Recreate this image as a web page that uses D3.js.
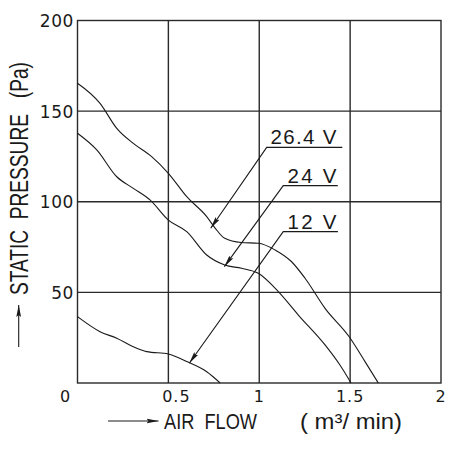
<!DOCTYPE html>
<html>
<head>
<meta charset="utf-8">
<script src="https://cdn.jsdelivr.net/npm/d3@7"></script>
<style>
  body { margin: 0; background: #fff; }
  svg { display: block; }
  text { fill: #1a1a1a; white-space: pre; }
</style>
</head>
<body>
<svg id="chart" width="451" height="450"></svg>
<script>
// flow (m3/min) and static pressure (Pa)
const flow264 = [0, 0.124, 0.216, 0.307, 0.408, 0.5, 0.601, 0.711, 0.757, 0.81, 0.9, 0.995, 1.087, 1.178, 1.252, 1.362, 1.495, 1.582, 1.655];
const pres264 = [165.4, 154.3, 140.5, 132.2, 124.9, 115.7, 102.8, 91.8, 85.5, 79.8, 77.5, 77.1, 73.4, 66.9, 57.8, 41.2, 25.5, 11.8, 0];

const flow24 = [0, 0.106, 0.216, 0.307, 0.399, 0.5, 0.601, 0.711, 0.81, 0.903, 0.995, 1.105, 1.215, 1.362, 1.444, 1.505];
const pres24 = [137.8, 128.6, 113.8, 107.4, 101, 89.9, 83.5, 70.6, 65.1, 63.3, 60.5, 50.4, 37.5, 21, 9.9, 0];

const flow12 = [0, 0.124, 0.216, 0.307, 0.381, 0.5, 0.601, 0.711, 0.785];
const pres12 = [36.6, 28.3, 24.7, 20, 17.3, 16, 11.8, 6.2, 0];

const xTicks = [0, 0.5, 1, 1.5, 2];
const yTicks = [50, 100, 150, 200];

// label, underline start/end flow, underline pressure, arrow tip (flow, pressure)
const labels = ['26.4 V', '24 V', '12 V'];
const labelFlow0 = [1.041, 1.132, 1.132];
const labelFlow1 = [1.457, 1.432, 1.433];
const labelPres = [130.0, 108.9, 83.5];
const tipFlow = [0.733, 0.808, 0.615];
const tipPres = [85.4, 64.2, 10.9];

const svg = d3.select('#chart');
const x = d3.scaleLinear().domain([0, 2]).range([77.5, 441]);
const y = d3.scaleLinear().domain([0, 200]).range([383, 20.5]);

const ink = '#1a1a1a';

svg.append('defs').append('marker')
  .attr('id', 'tip')
  .attr('viewBox', '0 -3 12 6')
  .attr('refX', 12).attr('refY', 0)
  .attr('markerUnits', 'userSpaceOnUse')
  .attr('markerWidth', 12).attr('markerHeight', 6)
  .attr('orient', 'auto')
  .append('path')
  .attr('d', 'M0,-2.4L12,0L0,2.4L2,0Z')
  .attr('fill', ink);

// grid
const grid = svg.append('g').attr('stroke', '#2a2a2a').attr('stroke-width', 1.4);
grid.selectAll('.gx').data(xTicks.slice(1, -1)).join('line')
  .attr('x1', d => x(d)).attr('x2', d => x(d))
  .attr('y1', y(0)).attr('y2', y(200));
grid.selectAll('.gy').data(yTicks.slice(0, -1)).join('line')
  .attr('y1', d => y(d)).attr('y2', d => y(d))
  .attr('x1', x(0)).attr('x2', x(2));
svg.append('rect')
  .attr('x', x(0)).attr('y', y(200))
  .attr('width', x(2) - x(0)).attr('height', y(0) - y(200))
  .attr('fill', 'none').attr('stroke', '#2a2a2a').attr('stroke-width', 1.4);

// tick labels
svg.append('g').selectAll('text').data(yTicks).join('text')
  .attr('x', 74).attr('y', d => y(d) + 6.5)
  .attr('text-anchor', 'end')
  .style('font', '17px "DejaVu Sans"')
  .style('letter-spacing', '0.6px')
  .text(d => d);
svg.append('g').selectAll('text').data(xTicks).join('text')
  .attr('x', d => d === 0 ? x(d) - 12 : x(d) + (d === 0.5 ? 8 : 0))
  .attr('y', 401.5)
  .attr('text-anchor', 'middle')
  .style('font', '16px "DejaVu Sans"')
  .style('letter-spacing', '1px')
  .text(d => d);

// curves
const line = d3.line().x(d => x(d[0])).y(d => y(d[1])).curve(d3.curveMonotoneX);
[[flow264, pres264], [flow24, pres24], [flow12, pres12]].forEach(([f, p]) => {
  svg.append('path')
    .datum(f.map((v, i) => [v, p[i]]))
    .attr('d', line)
    .attr('fill', 'none')
    .attr('stroke', ink)
    .attr('stroke-width', 1.1);
});

// voltage labels with leaders
labels.forEach((lab, i) => {
  svg.append('path')
    .attr('d', `M${x(labelFlow1[i])},${y(labelPres[i])}H${x(labelFlow0[i])}L${x(tipFlow[i])},${y(tipPres[i])}`)
    .attr('fill', 'none')
    .attr('stroke', ink)
    .attr('stroke-width', 1.1)
    .attr('marker-end', 'url(#tip)');
  svg.append('text')
    .attr('x', 336.5).attr('y', y(labelPres[i]) - 3)
    .attr('text-anchor', 'end')
    .attr('textLength', i === 0 ? 66 : 49)
    .attr('lengthAdjust', 'spacing')
    .style('font', '20.5px "Liberation Sans"')
    .text(lab);
});

// axis titles
svg.append('line')
  .attr('x1', 18.7).attr('y1', 347).attr('x2', 18.7).attr('y2', 305)
  .attr('stroke', ink).attr('stroke-width', 1.1)
  .attr('marker-end', 'url(#tip)');
svg.append('text')
  .attr('transform', 'translate(28.3,295) rotate(-90)')
  .attr('textLength', 233)
  .attr('lengthAdjust', 'spacingAndGlyphs')
  .style('font', '25px "Liberation Sans"')
  .text('STATIC  PRESSURE   (Pa)');

svg.append('line')
  .attr('x1', 108).attr('y1', 421).attr('x2', 158.5).attr('y2', 421)
  .attr('stroke', ink).attr('stroke-width', 1.1)
  .attr('marker-end', 'url(#tip)');
svg.append('text')
  .attr('x', 164).attr('y', 429)
  .attr('textLength', 93)
  .attr('lengthAdjust', 'spacingAndGlyphs')
  .style('font', '22px "Liberation Sans"')
  .text('AIR  FLOW');
svg.append('text')
  .attr('x', 300).attr('y', 429)
  .attr('textLength', 102)
  .attr('lengthAdjust', 'spacingAndGlyphs')
  .style('font', '22px "Liberation Sans"')
  .text('( m³/ min)');
</script>
</body>
</html>
